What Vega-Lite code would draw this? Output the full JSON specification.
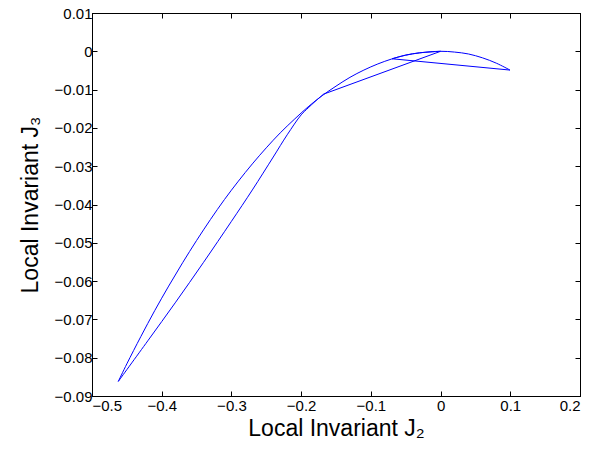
{
  "$schema": "https://vega.github.io/schema/vega-lite/v6.json",
  "width": 488,
  "height": 383,
  "autosize": {"type": "none"},
  "padding": {"left": 92, "top": 13, "right": 10, "bottom": 58},
  "background": "white",
  "config": {
    "view": {"stroke": "black", "strokeWidth": 1},
    "axis": {
      "labelFont": "Liberation Sans",
      "titleFont": "Liberation Sans",
      "labelFontSize": 15,
      "titleFontSize": 23,
      "titleFontWeight": "normal",
      "labelColor": "black",
      "titleColor": "black",
      "domainColor": "black",
      "tickColor": "black",
      "grid": false,
      "tickSize": -5,
      "labelPadding": 5
    }
  },
  "data": {
    "values": [
      {"seg": "A", "i": 0, "x": 0, "y": 0},
      {"seg": "A", "i": 1, "x": -0.168, "y": -0.0112},
      {"seg": "B", "i": 1, "x": -0.168, "y": -0.0112},
      {"seg": "B", "i": 2, "x": -0.18, "y": -0.0131},
      {"seg": "B", "i": 3, "x": -0.19, "y": -0.0148},
      {"seg": "B", "i": 4, "x": -0.20, "y": -0.0166},
      {"seg": "B", "i": 5, "x": -0.22, "y": -0.0218},
      {"seg": "B", "i": 6, "x": -0.24, "y": -0.0276},
      {"seg": "B", "i": 7, "x": -0.27, "y": -0.0362},
      {"seg": "B", "i": 8, "x": -0.30, "y": -0.0444},
      {"seg": "B", "i": 9, "x": -0.34, "y": -0.0551},
      {"seg": "B", "i": 10, "x": -0.38, "y": -0.0655},
      {"seg": "B", "i": 11, "x": -0.42, "y": -0.0756},
      {"seg": "B", "i": 12, "x": -0.4623, "y": -0.0862},
      {"seg": "C", "i": 12, "x": -0.4623, "y": -0.0862},
      {"seg": "C", "i": 13, "x": -0.45, "y": -0.0816},
      {"seg": "C", "i": 14, "x": -0.43, "y": -0.0745},
      {"seg": "C", "i": 15, "x": -0.41, "y": -0.0677},
      {"seg": "C", "i": 16, "x": -0.39, "y": -0.0613},
      {"seg": "C", "i": 17, "x": -0.37, "y": -0.0552},
      {"seg": "C", "i": 18, "x": -0.35, "y": -0.0494},
      {"seg": "C", "i": 19, "x": -0.33, "y": -0.0439},
      {"seg": "C", "i": 20, "x": -0.31, "y": -0.0387},
      {"seg": "C", "i": 21, "x": -0.29, "y": -0.0339},
      {"seg": "C", "i": 22, "x": -0.27, "y": -0.0294},
      {"seg": "C", "i": 23, "x": -0.25, "y": -0.0252},
      {"seg": "C", "i": 24, "x": -0.23, "y": -0.0213},
      {"seg": "C", "i": 25, "x": -0.21, "y": -0.0178},
      {"seg": "C", "i": 26, "x": -0.19, "y": -0.0145},
      {"seg": "C", "i": 27, "x": -0.17, "y": -0.0116},
      {"seg": "C", "i": 28, "x": -0.15, "y": -0.0091},
      {"seg": "C", "i": 29, "x": -0.13, "y": -0.0068},
      {"seg": "C", "i": 30, "x": -0.11, "y": -0.0049},
      {"seg": "C", "i": 31, "x": -0.09, "y": -0.0033},
      {"seg": "C", "i": 32, "x": -0.07, "y": -0.0020},
      {"seg": "C", "i": 33, "x": -0.05, "y": -0.0010},
      {"seg": "C", "i": 34, "x": -0.03, "y": -0.0004},
      {"seg": "C", "i": 35, "x": 0, "y": 0},
      {"seg": "C", "i": 36, "x": 0.02, "y": -0.0002},
      {"seg": "C", "i": 37, "x": 0.04, "y": -0.0007},
      {"seg": "C", "i": 38, "x": 0.06, "y": -0.0017},
      {"seg": "C", "i": 39, "x": 0.08, "y": -0.0031},
      {"seg": "C", "i": 40, "x": 0.0996, "y": -0.0049},
      {"seg": "D", "i": 40, "x": 0.0996, "y": -0.0049},
      {"seg": "D", "i": 41, "x": -0.0696, "y": -0.00195},
      {"seg": "E", "i": 41, "x": -0.0696, "y": -0.00195},
      {"seg": "E", "i": 42, "x": -0.05, "y": -0.0010},
      {"seg": "E", "i": 43, "x": -0.03, "y": -0.0004},
      {"seg": "E", "i": 44, "x": 0, "y": 0}
    ]
  },
  "layer": [
    {
      "mark": {"type": "line", "color": "#0000ff", "strokeWidth": 1, "interpolate": "catmull-rom", "clip": true},
      "encoding": {
        "x": {
          "field": "x", "type": "quantitative",
          "scale": {"domain": [-0.5, 0.2], "nice": false, "zero": false},
          "axis": {"title": "Local Invariant J₂", "values": [-0.5, -0.4, -0.3, -0.2, -0.1, 0, 0.1, 0.2], "format": "~g", "labelPadding": 7, "titlePadding": 4}
        },
        "y": {
          "field": "y", "type": "quantitative",
          "scale": {"domain": [-0.09, 0.01], "nice": false, "zero": false},
          "axis": {"title": "Local Invariant J₃", "values": [-0.09, -0.08, -0.07, -0.06, -0.05, -0.04, -0.03, -0.02, -0.01, 0, 0.01], "format": "~g", "titlePadding": 12}
        },
        "detail": {"field": "seg", "type": "nominal"},
        "order": {"field": "i", "type": "quantitative"}
      }
    },
    {
      "mark": {"type": "line", "opacity": 0},
      "encoding": {
        "x": {
          "field": "x", "type": "quantitative",
          "axis": {"orient": "top", "title": null, "labels": false, "values": [-0.5, -0.4, -0.3, -0.2, -0.1, 0, 0.1, 0.2]}
        },
        "y": {
          "field": "y", "type": "quantitative",
          "axis": {"orient": "right", "title": null, "labels": false, "values": [-0.09, -0.08, -0.07, -0.06, -0.05, -0.04, -0.03, -0.02, -0.01, 0, 0.01]}
        },
        "detail": {"field": "seg", "type": "nominal"},
        "order": {"field": "i", "type": "quantitative"}
      }
    }
  ],
  "resolve": {"axis": {"x": "independent", "y": "independent"}}
}
